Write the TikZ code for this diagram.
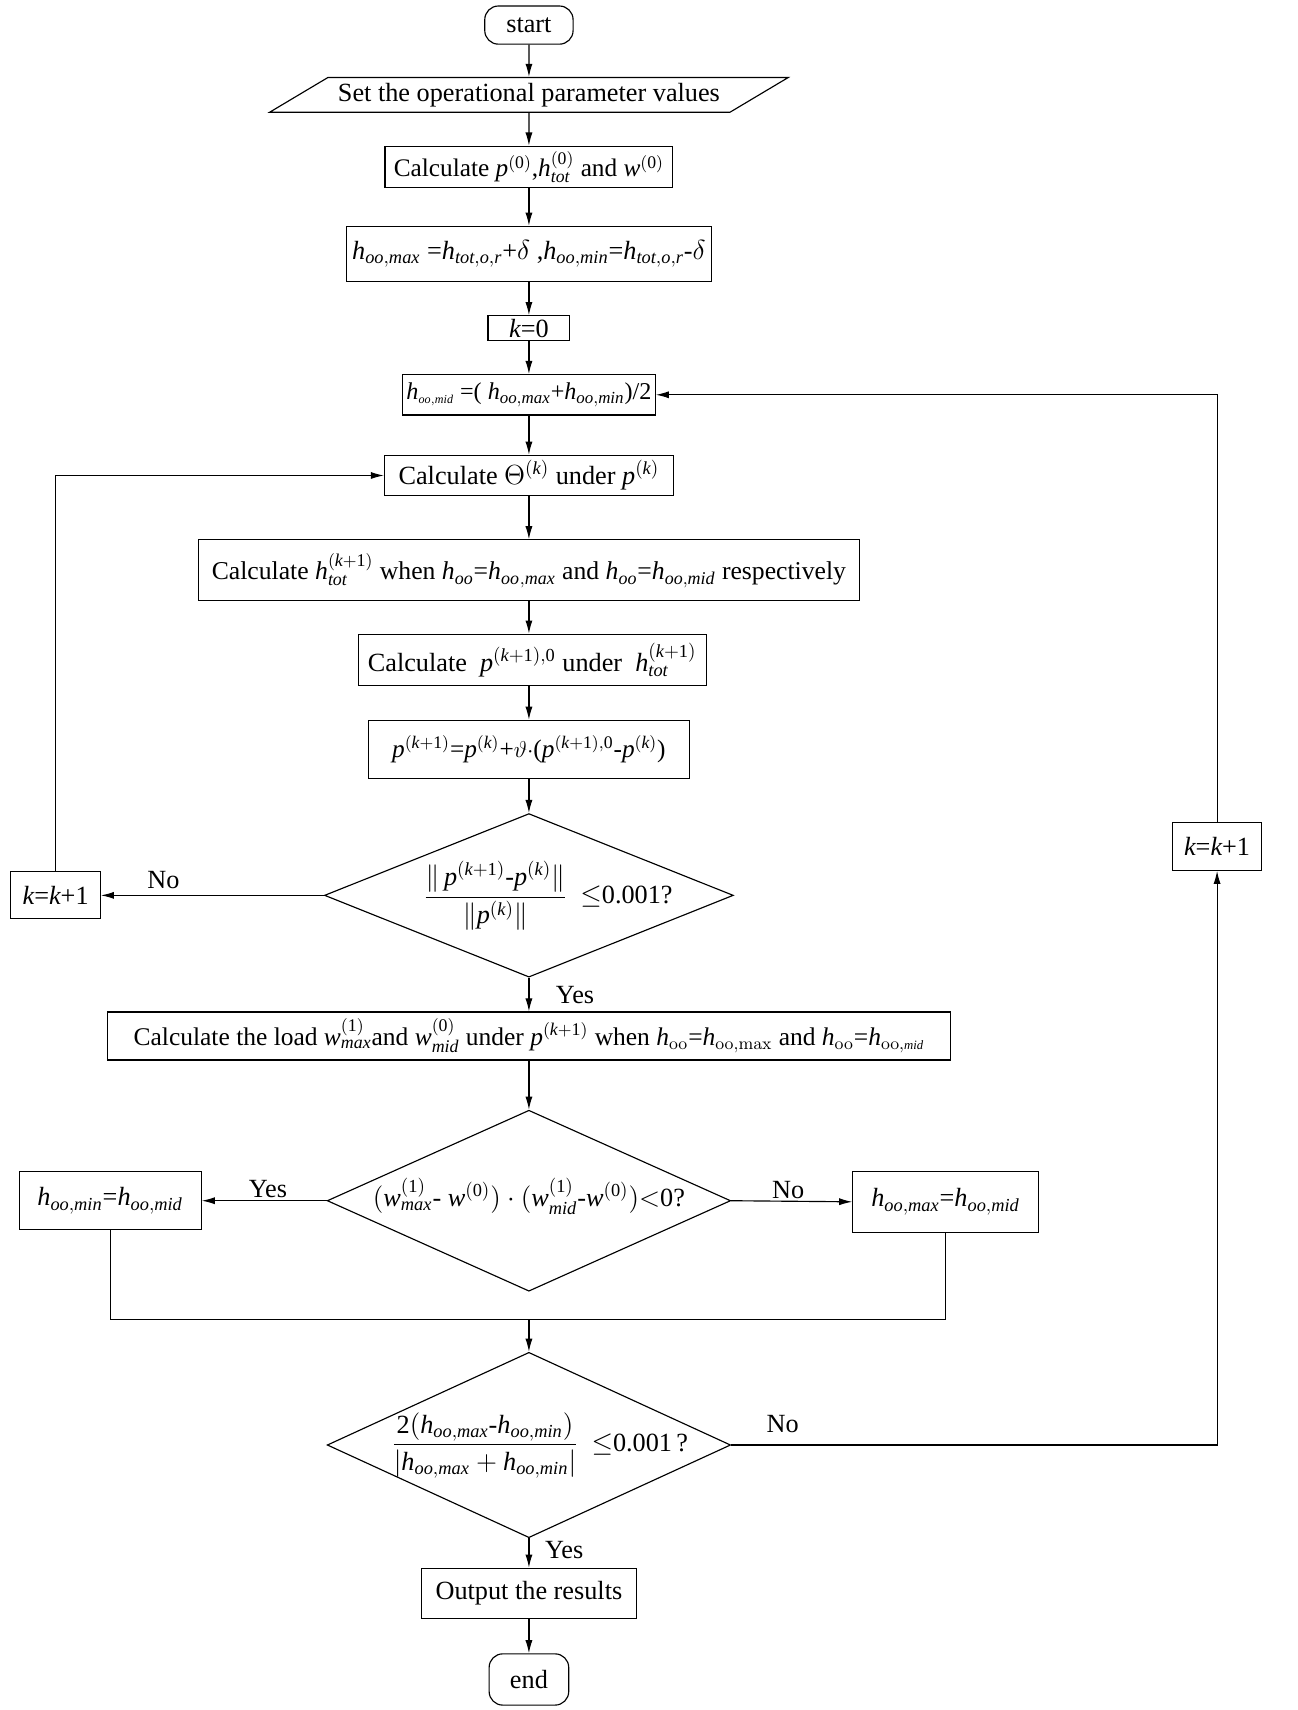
\documentclass[tikz,border=0pt]{standalone}
\usepackage{amsmath}
\usepackage{mathspec}
\setmainfont{Liberation Serif}
\setmathsfont(Digits,Latin){Liberation Serif}
\usetikzlibrary{arrows.meta,positioning,calc,shapes.geometric}
\newcommand{\zerobox}[1]{\smash{\makebox[0pt]{#1}}}

\begin{document}
\begin{tikzpicture}[x=0.02cm, y=-0.02cm, font=\fontsize{13.7}{16}\selectfont, line width=0.6pt,
box/.style={draw,align=center,inner sep=2pt},
term/.style={draw,rounded corners=2.5mm,inner sep=2pt},
io/.style={draw,trapezium,trapezium left angle=29,trapezium right angle=151,trapezium stretches=true,inner sep=2pt},
decision/.style={draw,diamond,inner sep=0pt},
arrow/.style={-{Latex[length=2.4mm,width=1.3mm]}},
lbl/.style={inner sep=1pt}]
\useasboundingbox (0,0) rectangle (1190,1568);
\node[term,minimum width=1.62cm,minimum height=0.7cm] (start) at (485,23) {start};
\node[io,minimum width=9.54cm,minimum height=0.64cm] (set) at (485,87) {Set the operational parameter values};
\node[box,minimum width=5.28cm,minimum height=0.76cm,font=\fontsize{13.2}{15}\selectfont] (init) at (485,153) {Calculate $p^{(0)}$,$h_{tot}^{(0)}$ and $w^{(0)}$};
\node[box,minimum width=6.7cm,minimum height=1.02cm] (bounds) at (485,233) {$h_{oo,max}$ =$h_{tot,o,r}$+$\delta$ ,$h_{oo,min}$=$h_{tot,o,r}$-$\delta$};
\node[box,minimum width=1.5cm,minimum height=0.46cm,inner sep=0pt] (kzero) at (485,301) {$k$=0};
\node[box,minimum width=4.54cm,minimum height=0.74cm,font=\fontsize{12.6}{15}\selectfont] (hmid) at (485,362) {$h_{\scriptscriptstyle oo,mid}$ =( $h_{oo,max}$+$h_{oo,min}$)/2};
\node[box,minimum width=5.3cm,minimum height=0.74cm] (theta) at (485,436) {Calculate $\Theta^{(k)}$ under $p^{(k)}$};
\node[box,minimum width=12.12cm,minimum height=1.12cm,font=\fontsize{13.4}{16}\selectfont] (htot) at (485,523) {Calculate $h_{tot}^{(k+1)}$ when $h_{oo}$=$h_{oo}$$_{,max}$ and $h_{oo}$=$h_{oo,mid}$ respectively};
\node[box,minimum width=6.38cm,minimum height=0.94cm] (pzero) at (488,605) {Calculate \ $p^{(k+1),0}$ under \ $h_{tot}^{(k+1)}$};
\node[box,minimum width=5.9cm,minimum height=1.06cm,font=\fontsize{13.2}{15}\selectfont] (pnew) at (485,687) {$p^{(k+1)}$=$p^{(k)}$+$\vartheta\cdot$($p^{(k+1),0}$-$p^{(k)}$)};
\node[decision,minimum width=7.5cm,minimum height=3cm] (conv) at (485,821) {\zerobox{\raisebox{-4.5pt}{\hspace{0.7cm}$\dfrac{\|\,p^{(k+1)}\text{-}p^{(k)}\|}{\|p^{(k)}\|}$\hspace{0.5em}$\leq$0.001?}}};
\node[box,minimum width=1.64cm,minimum height=0.86cm] (kleft) at (51,821) {$k$=$k$+1};
\node[box,minimum width=15.46cm,minimum height=0.88cm,font=\fontsize{13.3}{15}\selectfont] (load) at (485,950) {Calculate the load $w_{max}^{(1)}$and $w_{mid}^{(0)}$ under $p^{(k+1)}$ when $h_{\mathrm{oo}}$=$h_{\mathrm{oo,max}}$ and $h_{\mathrm{oo}}$=$h_{\mathrm{oo},\scriptscriptstyle mid}$};
\node[decision,minimum width=7.4cm,minimum height=3.32cm] (sign) at (485,1101) {\zerobox{\raisebox{-0.5ex}{$(w_{max}^{(1)}$- $w^{(0)})\cdot(w_{mid}^{(1)}$-$w^{(0)})$$<$0?}}};
\node[box,minimum width=3.34cm,minimum height=1.06cm] (hmin) at (101,1101) {$h_{oo,min}$=$h_{oo,mid}$};
\node[box,minimum width=3.4cm,minimum height=1.12cm] (hmax) at (867,1102) {$h_{oo,max}$=$h_{oo,mid}$};
\node[decision,minimum width=7.4cm,minimum height=3.4cm] (gap) at (485,1325) {\zerobox{\raisebox{-3.5pt}{\hspace{0.4cm}$\dfrac{2(h_{oo,max}\text{-}h_{oo,min})}{|h_{oo,max}+h_{oo,min}|}$\hspace{0.5em}$\leq$0.001\,?}}};
\node[box,minimum width=1.64cm,minimum height=0.88cm] (kright) at (1116,776) {$k$=$k$+1};
\node[box,minimum width=3.94cm,minimum height=0.92cm] (output) at (485,1461) {Output the results};
\node[term,minimum width=1.46cm,minimum height=0.94cm] (end) at (485,1540) {end};
\coordinate (join) at (485,1210);
\draw[arrow] (start) -- (set);
\draw[arrow] (set) -- (init);
\draw[arrow] (init) -- (bounds);
\draw[arrow] (bounds) -- (kzero);
\draw[arrow] (kzero) -- (hmid);
\draw[arrow] (hmid) -- (theta);
\draw[arrow] (theta) -- (htot);
\draw[arrow] (htot.south) -- (htot.south |- pzero.north);
\draw[arrow] (pzero.south -| pnew.north) -- (pnew.north);
\draw[arrow] (pnew) -- (conv);
\draw[arrow] (conv.west) -- (kleft.east) node[lbl,pos=0.72,above=2pt] {No};
\draw[arrow] (kleft.north) |- (theta.west);
\draw[arrow] (conv.south) -- (load.north) node[lbl,pos=0.5,right=0.45cm] {Yes};
\draw[arrow] (load) -- (sign);
\draw[arrow] (sign.west) -- (hmin.east) node[lbl,pos=0.47,above] {Yes};
\draw[arrow] (sign.east) -- (hmax.west) node[lbl,pos=0.47,above] {No};
\draw (hmin.south) |- (join) -| (hmax.south);
\draw[arrow] (join) -- (gap.north);
\draw[arrow] (gap.east) -| (kright.south) node[lbl,pos=0.053,above=5pt] {No};
\draw[arrow] (kright.north) |- (hmid.east);
\draw[arrow] (gap.south) -- (output.north) node[lbl,pos=0.4,right=0.25cm] {Yes};
\draw[arrow] (output) -- (end);
\end{tikzpicture}
\end{document}
